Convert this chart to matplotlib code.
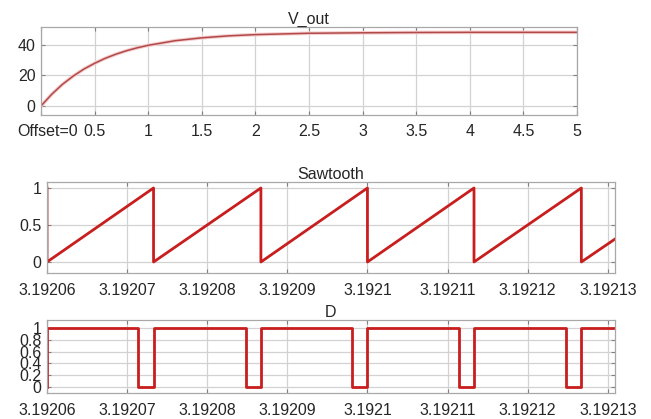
import matplotlib
matplotlib.use("Agg")
import matplotlib.pyplot as plt
from matplotlib.ticker import FuncFormatter, FixedLocator

plt.rcParams['font.family'] = ['Liberation Sans', 'DejaVu Sans']

# V_out response
vout_t = [0, 0.1, 0.2, 0.3, 0.4, 0.5, 0.6, 0.7, 0.8, 0.9, 1.0,
          1.25, 1.5, 1.75, 2.0, 2.5, 3.0, 3.5, 4.0, 5.0]
vout_v = [0, 7.7, 14.2, 19.6, 24.2, 28.0, 31.3, 34.0, 36.3, 38.2, 39.8,
          42.8, 44.7, 46.0, 46.8, 47.7, 48.0, 48.2, 48.3, 48.3]
vout_ticks = [0, 0.5, 1, 1.5, 2, 2.5, 3, 3.5, 4, 4.5, 5]
vout_yticks = [0, 20, 40]

# sawtooth resets (value drops 1 -> 0) and end of window
saw_resets = [3.19206, 3.1920733, 3.1920867, 3.19210, 3.1921133, 3.1921267]
t_end = 3.1921309
saw_end_value = 0.31

# D: times where the gate goes low (it comes back high at the next reset)
d_low = [3.1920714, 3.1920848, 3.1920981, 3.1921114, 3.1921248]

time_ticks = [3.19206, 3.19207, 3.19208, 3.19209, 3.19210, 3.19211, 3.19212, 3.19213]

W, H = 651, 419
GRID = '#d2d2d2'
SPINE = '#a8a8a8'
TXT = '#262626'
FS = 11.5


def style(ax):
    for s in ax.spines.values():
        s.set_color(SPINE)
        s.set_linewidth(0.9)
    ax.tick_params(direction='in', length=3, color='#808080', labelsize=FS,
                   labelcolor=TXT, top=True, right=True)
    ax.tick_params(axis='x', pad=7.5)
    ax.tick_params(axis='y', pad=4)
    ax.grid(True, color=GRID, linewidth=0.9)
    ax.set_axisbelow(True)


def fmt_time(v, pos):
    return '%.6g' % v


fig = plt.figure(figsize=(W / 100, H / 100), dpi=100)

# --- V_out
ax1 = fig.add_axes([41 / W, 1 - 115 / H, 536 / W, 88 / H])
ax1.plot(vout_t, vout_v, color='#f6cccc', lw=2.6)
ax1.plot(vout_t, vout_v, color='#b04a4a', lw=1.1)
ax1.set_xlim(0, 5)
ax1.set_ylim(-5.9, 51.8)
ax1.set_xticks(vout_ticks)
ax1.set_xticklabels([''] + ['%g' % v for v in vout_ticks[1:]])
ax1.set_yticks(vout_yticks)
style(ax1)
ax1.tick_params(axis='x', pad=6.5)
ax1.text(-0.045, -0.19, 'Offset=0', transform=ax1.transAxes, ha='left',
         va='center', fontsize=FS, color=TXT)
ax1.set_title('V_out', fontsize=FS, color=TXT, pad=2)

# --- Sawtooth
st, sv = [], []
for r in saw_resets:
    st += [r, r]
    sv += [1, 0]
st.append(t_end)
sv.append(saw_end_value)

ax2 = fig.add_axes([47 / W, 1 - 273 / H, 568 / W, 91 / H])
ax2.plot(st, sv, color='#c81e1e', lw=2)
ax2.set_xlim(saw_resets[0], t_end)
ax2.set_ylim(-0.149, 1.081)
ax2.xaxis.set_major_locator(FixedLocator(time_ticks))
ax2.xaxis.set_major_formatter(FuncFormatter(fmt_time))
ax2.set_yticks([0, 0.5, 1])
ax2.yaxis.set_major_formatter(FuncFormatter(lambda v, p: '%g' % v))
style(ax2)
ax2.set_title('Sawtooth', fontsize=FS, color=TXT, pad=2)

# --- D
dt_, dv = [saw_resets[0], saw_resets[0]], [0, 1]
for lo, r in zip(d_low, saw_resets[1:]):
    dt_ += [lo, lo, r, r]
    dv += [1, 0, 0, 1]
dt_.append(t_end)
dv.append(1)

ax3 = fig.add_axes([47 / W, 1 - 393 / H, 568 / W, 73 / H])
ax3.plot(dt_, dv, color='#c81e1e', lw=2)
ax3.set_xlim(saw_resets[0], t_end)
ax3.set_ylim(-0.102, 1.136)
ax3.xaxis.set_major_locator(FixedLocator(time_ticks))
ax3.xaxis.set_major_formatter(FuncFormatter(fmt_time))
ax3.set_yticks([0, 0.2, 0.4, 0.6, 0.8, 1])
ax3.yaxis.set_major_formatter(FuncFormatter(lambda v, p: '%g' % v))
style(ax3)
ax3.set_title('D', fontsize=FS, color=TXT, pad=2)

fig.savefig('out.png', dpi=100)
